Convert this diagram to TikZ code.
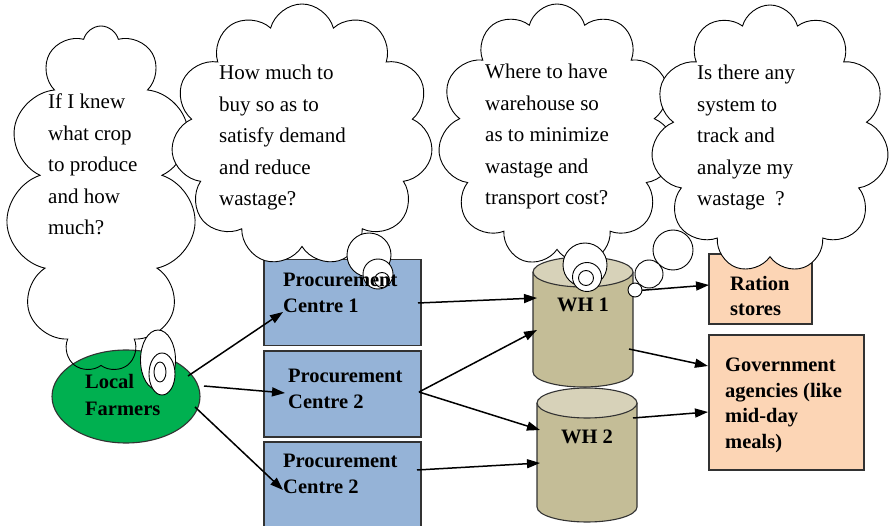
\documentclass[tikz,border=0pt]{standalone}
\usepackage{fontspec}
\setmainfont{Liberation Serif}
\usetikzlibrary{positioning,arrows.meta,shapes.geometric,shapes.symbols}
\definecolor{pcblue}{RGB}{149,179,215}
\definecolor{farmgreen}{RGB}{0,176,80}
\definecolor{outpeach}{RGB}{252,213,181}
\definecolor{whbody}{RGB}{196,189,151}
\definecolor{whtop}{RGB}{215,210,185}
\definecolor{edgegray}{RGB}{50,50,50}
\tikzset{
  box/.style     = {rectangle, draw=edgegray, line width=1.1pt, inner sep=0pt},
  pcbox/.style   = {box, fill=pcblue, minimum width=157pt, minimum height=86pt},
  outbox/.style  = {box, fill=outpeach},
  wh/.style      = {rectangle, inner sep=0pt, minimum width=100pt},
  whbody/.style  = {draw=edgegray, line width=1.1pt, fill=whbody},
  whend/.style   = {draw=edgegray, line width=1.1pt, fill=whtop},
  thought/.style = {cloud, cloud puffs=11, cloud ignores aspect, draw,
                    line width=0.9pt, fill=white, inner sep=0pt},
  bub/.style     = {draw, line width=0.9pt, fill=white},
  says/.style    = {anchor=north west, align=left, inner sep=0pt,
                    font=\fontsize{21}{31.5}\selectfont},
  lab/.style     = {anchor=north west, align=left, inner sep=0pt,
                    font=\fontsize{20.5}{25.5}\selectfont\bfseries},
  arr/.style     = {-{Triangle[length=13pt,width=9pt]}, line width=1.5pt}
}

\begin{document}
\begin{tikzpicture}[x=1pt,y=-1pt]
        \useasboundingbox (0,0) rectangle (889,526);
        % supply chain
        \node[pcbox] (pc1) at (342.5,302.5){};
        \node[pcbox] (pc2) at (342.5,394){};
        \node[pcbox] (pc3) at (342.5,485){};
        \node[ellipse,draw=edgegray,line width=1.1pt,fill=farmgreen,
              minimum width=148pt,minimum height=93pt] (farm) at (126,396.5){};
        \node[wh,minimum height=131pt] (wh1) at (583,322){};
        \node[wh,minimum height=134pt] (wh2) at (587,455){};
        \filldraw[whbody](533,272)--(533,372) arc[start angle=180,end angle=0,x radius=50,y radius=15]--(633,272);
        \filldraw[whend](583,272) ellipse[x radius=50,y radius=15];
        \filldraw[whbody](537,403)--(537,507) arc[start angle=180,end angle=0,x radius=50,y radius=15]--(637,403);
        \filldraw[whend](587,403) ellipse[x radius=50,y radius=15];
        \node[outbox,minimum width=103pt,minimum height=70pt] (ration) at (760.5,289){};
        \node[outbox,minimum width=155pt,minimum height=135pt] (gov) at (786.5,402.5){};
        \draw[arr]([shift={(62,-20.5)}]farm.center)--([shift={(-59.5,9.5)}]pc1.center);
        \draw[arr]([shift={(78,-10.5)}]farm.center)--([shift={(-57.5,-1)}]pc2.center);
        \draw[arr]([shift={(69,10.5)}]farm.center)--([shift={(-59.5,5)}]pc3.center);
        \draw[arr]([shift={(75.5,0.5)}]pc1.center)--([shift={(-46,-24)}]wh1.center);
        \draw[arr]([shift={(76.5,-2)}]pc2.center)--([shift={(-46,8)}]wh1.center);
        \draw[arr]([shift={(76.5,-2)}]pc2.center)--([shift={(-47,-25)}]wh2.center);
        \draw[arr]([shift={(74.5,-15)}]pc3.center)--([shift={(-47,8)}]wh2.center);
        \draw[arr]([shift={(50,-31)}]wh1.center)--([shift={(-51.5,-4)}]ration.center);
        \draw[arr]([shift={(46,27)}]wh1.center)--([shift={(-78.5,-36.5)}]gov.center);
        \draw[arr]([shift={(46,-37)}]wh2.center)--([shift={(-78.5,9.5)}]gov.center);
        % thoughts
        \node[thought,fill=none,minimum width=190pt,minimum height=346pt] (q1) at (101,199){};
        \node[thought,minimum width=262pt,minimum height=262pt] (q2) at (302,135){};
        \node[thought,minimum width=238pt,minimum height=262pt] (q3) at (557,135){};
        \node[thought,minimum width=238pt,minimum height=268pt] (q4) at (770,139){};
        \draw[bub](158,360) ellipse[x radius=17.5,y radius=30];
        \draw[bub](162,374) ellipse[x radius=13,y radius=21];
        \draw[bub](160,372) ellipse[x radius=6,y radius=10];
        \draw[bub](369,255) circle[radius=22];
        \draw[bub](378,274) circle[radius=15];
        \draw[bub](382,280) circle[radius=7.5];
        \draw[bub](585,265) circle[radius=22];
        \draw[bub](587,277) circle[radius=14.5];
        \draw[bub](586,278) circle[radius=7.5];
        \draw[bub](673,250) circle[radius=20];
        \draw[bub](649,274) circle[radius=14];
        \draw[bub](635,290) circle[radius=7];
        % texts
        \node[says] (t1) at (48,94){If I knew\\what crop\\to produce\\and how\\much?};
        \node[says] (t2) at (219,65){How much to\\buy so as to\\satisfy demand\\and reduce\\wastage?};
        \node[says] (t3) at (485,64){Where to have\\warehouse so\\as to minimize\\wastage and\\transport cost?};
        \node[says] (t4) at (697,65){Is there any\\system to\\track and\\analyze my\\wastage~ ?};
        \node[lab] (l1) at (283,273){Procurement\\Centre 1};
        \node[lab] (l2) at (288,369){Procurement\\Centre 2};
        \node[lab] (l3) at (283,454){Procurement\\Centre 2};
        \node[lab,font=\fontsize{20.5}{27}\selectfont\bfseries] (lf) at (85,374){Local\\Farmers};
        \node[lab] (lr) at (730,276){Ration\\stores};
        \node[lab] (lg) at (725,358){Government\\agencies (like\\mid-day\\meals)};
        \node[lab,anchor=base] (lw1) at (583,312){WH 1};
        \node[lab,anchor=base] (lw2) at (587,443){WH 2};
      \end{tikzpicture}
\end{document}
